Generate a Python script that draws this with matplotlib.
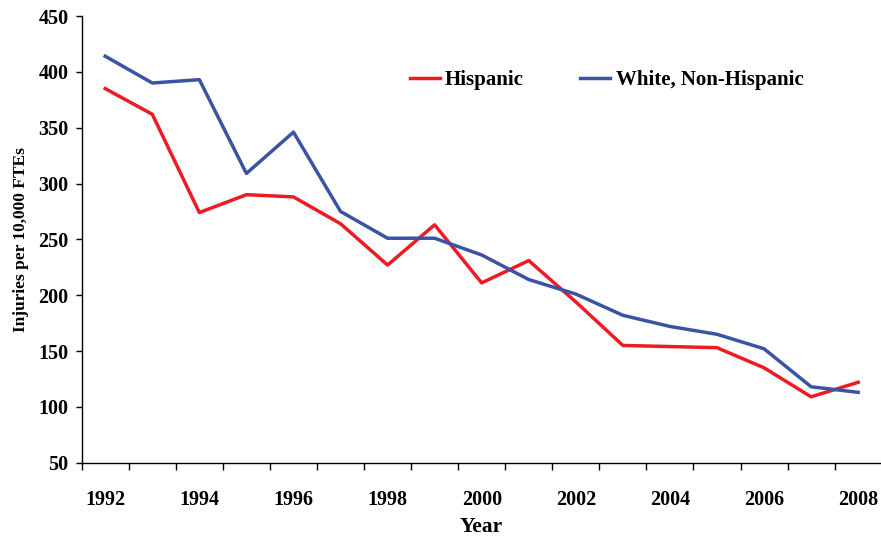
import numpy as np
import matplotlib.pyplot as plt

# Injury rates by ethnicity
years = list(range(1992, 2009))
hispanic = [385, 362, 274, 290, 288, 264, 227, 263, 211, 231, 194, 155, 154, 153, 135, 109, 122]
white_non_hispanic = [414, 390, 393, 309, 346, 275, 251, 251, 236, 214, 201, 182, 172, 165, 152, 118, 113]
year_labels = [str(y) for y in years[::2]]

plt.rcParams['font.family'] = ['Liberation Serif', 'DejaVu Serif']
plt.rcParams['font.weight'] = 'bold'

fig = plt.figure(figsize=(8.81, 5.37), dpi=100)
ax = fig.add_axes([81.7 / 881, 1 - 462.7 / 537, 800 / 881, 446.7 / 537])

x = np.arange(len(years))
ax.plot(x, hispanic, color='#ED1C24', lw=2.5, label='Hispanic')
ax.plot(x, white_non_hispanic, color='#3A53A4', lw=2.5, label='White, Non-Hispanic')

ax.set_xlim(-0.5, len(years) - 0.5)
ax.set_ylim(50, 450)
ax.set_yticks(np.arange(50, 451, 50))

# category axis: tick marks between years, labels on every other year
ax.set_xticks(np.arange(-0.5, len(years) - 1, 1.0))
ax.set_xticklabels([])
ax.set_xticks(x[::2], minor=True)
ax.set_xticklabels(year_labels, minor=True)
ax.tick_params(axis='x', which='major', length=5, width=1, direction='out')
ax.tick_params(axis='x', which='minor', length=0, pad=20, labelsize=14.5)
ax.tick_params(axis='y', length=4.5, width=1, direction='out', pad=5, labelsize=14.5)

for side in ['top', 'right']:
    ax.spines[side].set_visible(False)
for side in ['left', 'bottom']:
    ax.spines[side].set_linewidth(1)

ax.set_ylabel('Injuries per 10,000 FTEs', fontsize=12.5, fontweight='bold', labelpad=7)
ax.set_xlabel('Year', fontsize=15.5, fontweight='bold', labelpad=5)

ax.legend(loc='center left', bbox_to_anchor=(0.41, 0.857), frameon=False,
          ncol=2, borderpad=0, borderaxespad=0, handlelength=1.45,
          handletextpad=0.25, columnspacing=2.7,
          prop={'size': 15, 'weight': 'bold'})

fig.savefig('out.png', dpi=100)
